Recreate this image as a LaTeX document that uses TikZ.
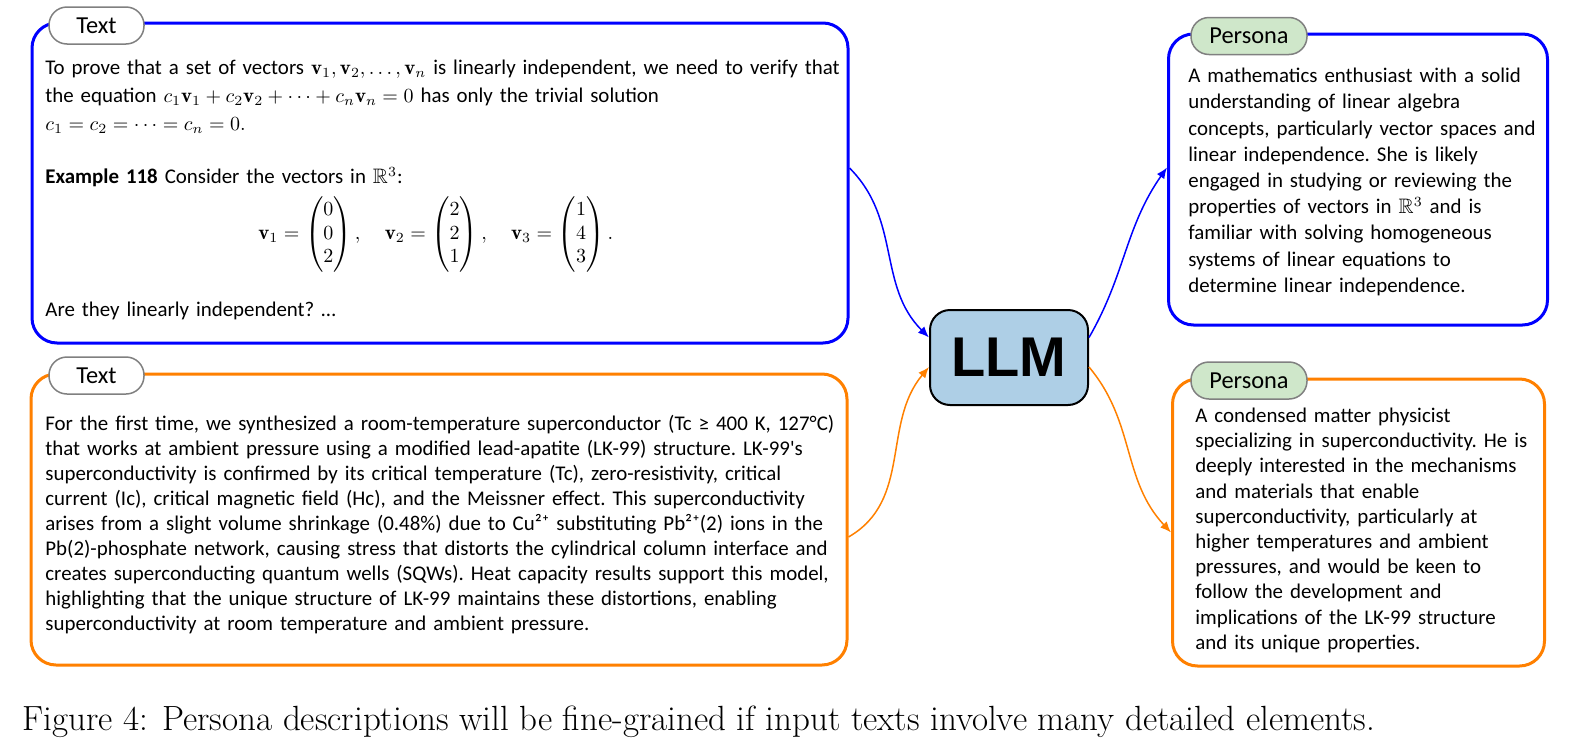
\documentclass[tikz,border=0pt]{standalone}
\usepackage{amsmath,amssymb}
\usepackage{fontspec}
\usetikzlibrary{arrows.meta}
\newfontfamily\bodyfont{Carlito}
\newfontfamily\llmfont{Liberation Sans}
\definecolor{boxblue}{HTML}{0000FF}
\definecolor{boxorange}{HTML}{FF8000}
\definecolor{llmfill}{HTML}{AECFE6}
\definecolor{tagfill}{HTML}{CFE7CA}
\definecolor{taggray}{HTML}{808080}
\setlength{\parindent}{0pt}

\begin{document}
\begin{tikzpicture}[x=0.5pt,y=0.5pt,
  panel/.style={draw,line width=1.5pt,rounded corners=12.5pt,fill=white,inner sep=0pt},
  tag/.style={draw=taggray,line width=0.75pt,rounded corners=9pt,inner sep=0pt,
    minimum height=18.5pt,font=\bodyfont\fontsize{12.2}{14}\selectfont},
  body/.style={anchor=north west,inner sep=0pt,text width=440pt,
    font=\bodyfont\fontsize{10.45}{#1}\selectfont\frenchspacing},
  link/.style={line width=0.75pt,-{Latex[length=5.5pt,width=4.5pt]}}]

  \useasboundingbox (0,0) rectangle (1586,-750);

  \node[panel,draw=boxblue,minimum width=408pt,minimum height=160pt] (textA) at (440,-183) {};
  \node[panel,draw=boxorange,minimum width=408pt,minimum height=145.5pt] (textB) at (439,-519.5) {};
  \node[panel,draw=boxblue,minimum width=189.5pt,minimum height=145.5pt] (personaA) at (1358,-179.5) {};
  \node[panel,draw=boxorange,minimum width=186pt,minimum height=143.5pt] (personaB) at (1358.5,-522.5) {};
  \node[draw,line width=1pt,fill=llmfill,rounded corners=10pt,minimum width=79pt,minimum height=47.5pt,
    font=\llmfont\bfseries\fontsize{28}{30}\selectfont] (llm) at (1009,-357.5) {LLM};

  \node[tag,fill=white,minimum width=47.5pt] (tagA) at (96.5,-25.5) {Text};
  \node[tag,fill=white,minimum width=47.5pt] (tagB) at (96.5,-375.5) {Text};
  \node[tag,fill=tagfill,minimum width=58pt] (tagC) at (1249,-36) {Persona};
  \node[tag,fill=tagfill,minimum width=58pt] (tagD) at (1249,-380.5) {Persona};

  \node[body=14pt] (bodyA) at (45,-54.5) {\strut To prove that a set of vectors $\mathbf{v}_1, \mathbf{v}_2, \ldots, \mathbf{v}_n$ is linearly independent, we need to verify that\\
    the equation $c_1\mathbf{v}_1 + c_2\mathbf{v}_2 + \cdots + c_n\mathbf{v}_n = 0$ has only the trivial solution\\
    $c_1 = c_2 = \cdots = c_n = 0.$\par
    \vspace{12.5pt}
    \textbf{Example 118} Consider the vectors in $\mathbb{R}^3$:\par
    \vspace{4pt}
    \hspace*{106.5pt}{\renewcommand{\arraystretch}{0.85}$\mathbf{v}_1 = \begin{pmatrix}0\\0\\2\end{pmatrix},\quad \mathbf{v}_2 = \begin{pmatrix}2\\2\\1\end{pmatrix},\quad \mathbf{v}_3 = \begin{pmatrix}1\\4\\3\end{pmatrix}.$}\par
    \vspace{14pt}
    Are they linearly independent? …};

  \node[body=12.5pt] (bodyB) at (45,-412.5) {\strut For the first time, we synthesized a room-temperature superconductor (Tc ≥ 400 K, 127°C)\\
    that works at ambient pressure using a modified lead-apatite (LK-99) structure. LK-99's\\
    superconductivity is confirmed by its critical temperature (Tc), zero-resistivity, critical\\
    current (Ic), critical magnetic field (Hc), and the Meissner effect. This superconductivity\\
    arises from a slight volume shrinkage (0.48\%) due to Cu²⁺ substituting Pb²⁺(2) ions in the\\
    Pb(2)-phosphate network, causing stress that distorts the cylindrical column interface and\\
    creates superconducting quantum wells (SQWs). Heat capacity results support this model,\\
    highlighting that the unique structure of LK-99 maintains these distortions, enabling\\
    superconductivity at room temperature and ambient pressure.};

  \node[body=13.1pt] (bodyC) at (1188,-64) {\strut A mathematics enthusiast with a solid\\
    understanding of linear algebra\\
    concepts, particularly vector spaces and\\
    linear independence. She is likely\\
    engaged in studying or reviewing the\\
    properties of vectors in $\mathbb{R}^3$ and is\\
    familiar with solving homogeneous\\
    systems of linear equations to\\
    determine linear independence.};

  \node[body=12.6pt] (bodyD) at (1195,-404.5) {\strut A condensed matter physicist\\
    specializing in superconductivity. He is\\
    deeply interested in the mechanisms\\
    and materials that enable\\
    superconductivity, particularly at\\
    higher temperatures and ambient\\
    pressures, and would be keen to\\
    follow the development and\\
    implications of the LK-99 structure\\
    and its unique properties.};

  \draw[link,boxblue] ([yshift=7.5pt]textA.east) to[out=-45,in=135] ([yshift=10pt]llm.west);
  \draw[link,boxorange] ([yshift=-8.75pt]textB.east) to[out=30,in=-130] ([yshift=-4.75pt]llm.west);
  \draw[link,boxblue] ([yshift=10pt]llm.east) to[out=60,in=-125] ([yshift=6pt]personaA.west);
  \draw[link,boxorange] ([yshift=-4.75pt]llm.east) to[out=-50,in=133] ([yshift=-5pt]personaB.west);

  \node[anchor=base west,inner sep=0pt,font=\fontsize{17.5}{20}\selectfont] (caption) at (22,-730)
    {Figure 4: Persona descriptions will be fine-grained if input texts involve many detailed elements.};
\end{tikzpicture}
\end{document}
